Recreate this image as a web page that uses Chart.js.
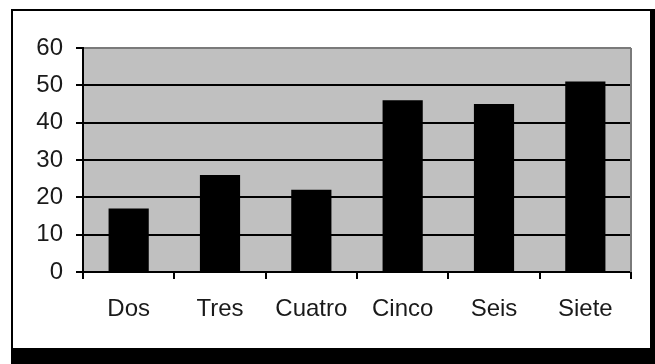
<!DOCTYPE html>
<html>
<head>
<meta charset="utf-8">
<script src="https://cdn.jsdelivr.net/npm/chart.js@4/dist/chart.umd.min.js"></script>
<style>
  html, body { margin: 0; padding: 0; background: #fff; }
  #wrap { width: 655px; height: 364px; position: relative; }
</style>
</head>
<body>
<div id="wrap"><canvas id="c" width="655" height="364"></canvas></div>
<script>
// Categories and values
const categories = ['Dos', 'Tres', 'Cuatro', 'Cinco', 'Seis', 'Siete'];
const values = [17, 26, 22, 46, 45, 51];
const yTicks = [0, 10, 20, 30, 40, 50, 60];

const FONT = "'Liberation Sans', Arial, sans-serif";

// Frame around the chart and the grey plot background
const framePlugin = {
  id: 'frame',
  beforeDraw(chart) {
    const ctx = chart.ctx;
    const a = chart.chartArea;
    ctx.save();
    ctx.fillStyle = '#ffffff';
    ctx.fillRect(0, 0, chart.width, chart.height);
    // box outline with heavy right/bottom edge
    ctx.fillStyle = '#000';
    ctx.fillRect(11, 9, 644, 2);
    ctx.fillRect(11, 9, 2, 355);
    ctx.fillRect(650, 9, 5, 355);
    ctx.fillRect(11, 348, 644, 16);
    // plot background
    ctx.fillStyle = '#c0c0c0';
    ctx.fillRect(a.left, a.top, a.right - a.left, a.bottom - a.top);
    ctx.restore();
  },
  afterDatasetsDraw(chart) {
    const ctx = chart.ctx;
    const a = chart.chartArea;
    ctx.save();
    ctx.strokeStyle = '#7a7a7a';
    ctx.lineWidth = 2;
    ctx.beginPath();
    ctx.moveTo(a.right, a.top);
    ctx.lineTo(a.right, a.bottom);
    ctx.stroke();
    ctx.restore();
  }
};

new Chart(document.getElementById('c'), {
  type: 'bar',
  data: {
    labels: categories,
    datasets: [{
      data: values,
      backgroundColor: '#000',
      borderWidth: 0,
      categoryPercentage: 1.0,
      barPercentage: 0.44
    }]
  },
  options: {
    responsive: false,
    animation: false,
    devicePixelRatio: 1,
    layout: { padding: { left: 0, top: 48, right: 24, bottom: 0 } },
    plugins: {
      legend: { display: false },
      tooltip: { enabled: false }
    },
    scales: {
      x: {
        grid: {
          offset: true,
          drawOnChartArea: false,
          color: '#000',
          lineWidth: 2,
          tickLength: 7
        },
        border: { color: '#000', width: 2 },
        ticks: {
          color: '#1a1a1a',
          font: { family: FONT, size: 24 },
          padding: 16,
          maxRotation: 0
        },
        afterFit(scale) { scale.height = 92; }
      },
      y: {
        min: 0,
        max: 60,
        afterBuildTicks(scale) { scale.ticks = yTicks.map(v => ({ value: v })); },
        grid: {
          color: ctx => (ctx.tick && ctx.tick.value === 60) ? '#7a7a7a' : '#000',
          lineWidth: 2,
          tickLength: 7,
          tickColor: '#000'
        },
        border: { color: '#000', width: 2 },
        ticks: {
          color: '#1a1a1a',
          font: { family: FONT, size: 24 },
          padding: 13
        },
        afterFit(scale) { scale.width = 83; }
      }
    }
  },
  plugins: [framePlugin]
});
</script>
</body>
</html>
